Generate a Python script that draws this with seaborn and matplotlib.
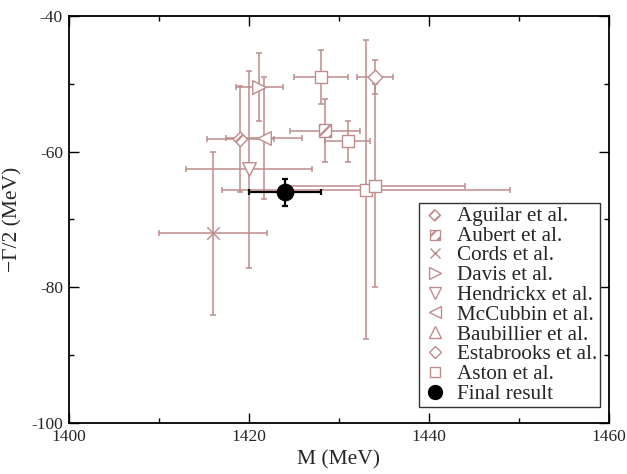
import matplotlib
matplotlib.use("Agg")
import matplotlib.pyplot as plt
from matplotlib.lines import Line2D
import seaborn as sns
import numpy as np
import pandas as pd

# ---- data ----
labels = ["Aguilar et al.", "Aubert et al.", "Cords et al.", "Davis et al.",
          "Hendrickx et al.", "McCubbin et al.", "Baubillier et al.",
          "Estabrooks et al.", "Aston et al.", "Final result"]

aguilar_m, aguilar_dm, aguilar_g, aguilar_dg = [1419.1], [3.7], [-58.2], [7.8]
aubert_m, aubert_dm, aubert_g, aubert_dg = [1428.5], [3.9], [-56.9], [4.6]
cords_m, cords_dm, cords_g, cords_dg = [1416.0], [6.0], [-72.0], [12.0]
davis_m, davis_dm, davis_g, davis_dg = [1421.2], [2.6], [-50.5], [5.0]
hendrickx_m, hendrickx_dm, hendrickx_g, hendrickx_dg = [1420.0], [7.0], [-62.6], [14.5]
mccubbin_m, mccubbin_dm, mccubbin_g, mccubbin_dg = [1421.7], [4.2], [-58.0], [9.0]
baubillier_m, baubillier_dm, baubillier_g, baubillier_dg = [], [], [], []
estabrooks_m, estabrooks_dm, estabrooks_g, estabrooks_dg = [1434.0], [2.0], [-49.0], [2.5]
aston_m = [1428.0, 1431.0, 1433.0, 1434.0]
aston_dm = [3.0, 2.5, 16.0, 10.0]
aston_g = [-49.0, -58.5, -65.6, -65.0]
aston_dg = [4.0, 3.0, 22.0, 15.0]
final_m, final_dm, final_g, final_dg = [1424.0], [4.0], [-66.0], [2.0]

x_ticks = [1400, 1420, 1440, 1460]
y_ticks = [-100, -80, -60, -40]

# ---- style ----
sns.set_theme(style="ticks")
plt.rcParams["font.family"] = ["Liberation Serif", "DejaVu Serif"]
plt.rcParams["axes.unicode_minus"] = False
plt.rcParams["hatch.linewidth"] = 1.6

col = "#bf8c8c"

fig = plt.figure(figsize=(6.27, 4.74), dpi=100)
ax = fig.add_axes([68.5 / 627, 1 - 423.3 / 474, 540 / 627, 407.6 / 474])

series = [
    (labels[0], aguilar_m, aguilar_dm, aguilar_g, aguilar_dg, "D", "///"),
    (labels[1], aubert_m, aubert_dm, aubert_g, aubert_dg, "s", "///"),
    (labels[2], cords_m, cords_dm, cords_g, cords_dg, "x", None),
    (labels[3], davis_m, davis_dm, davis_g, davis_dg, ">", None),
    (labels[4], hendrickx_m, hendrickx_dm, hendrickx_g, hendrickx_dg, "v", None),
    (labels[5], mccubbin_m, mccubbin_dm, mccubbin_g, mccubbin_dg, "<", None),
    (labels[6], baubillier_m, baubillier_dm, baubillier_g, baubillier_dg, "^", None),
    (labels[7], estabrooks_m, estabrooks_dm, estabrooks_g, estabrooks_dg, "D", None),
    (labels[8], aston_m, aston_dm, aston_g, aston_dg, "s", None),
]

sizes = {"D": 55, "s": 80, "x": 80, ">": 95, "v": 95, "<": 95, "^": 95}
leg_ms = {"D": 6.0, "s": 7.0, "x": 7.0, ">": 8.0, "v": 8.0, "<": 8.0, "^": 8.0}

handles = []
for lab, m, dm, g, dg, mk, hatch in series:
    if len(m):
        ax.errorbar(m, g, xerr=dm, yerr=dg, fmt="none", ecolor=col,
                    elinewidth=1.1, capsize=2.2, capthick=1.1, zorder=2)
        df = pd.DataFrame({"M": np.asarray(m, dtype=float), "G": np.asarray(g, dtype=float)})
        kw = dict(marker=mk, s=sizes[mk], linewidth=1.0, zorder=3, legend=False)
        if mk == "x":
            kw.update(color=col)
        else:
            kw.update(facecolor="white", edgecolor=col)
        if hatch:
            kw.update(hatch=hatch)
        sns.scatterplot(data=df, x="M", y="G", ax=ax, **kw)
    if hatch:
        h = ax.scatter([], [], marker=mk, s=sizes[mk] * 0.6, facecolor="white",
                       edgecolor=col, linewidth=1.0, hatch=hatch)
    elif mk == "x":
        h = Line2D([], [], ls="none", marker=mk, ms=leg_ms[mk], color=col, mew=1.0)
    else:
        h = Line2D([], [], ls="none", marker=mk, ms=leg_ms[mk], mfc="white",
                   mec=col, mew=1.0)
    handles.append(h)

ax.errorbar(final_m, final_g, xerr=final_dm, yerr=final_dg, fmt="none",
            ecolor="black", elinewidth=1.6, capsize=2.5, capthick=1.6, zorder=4)
df_final = pd.DataFrame({"M": final_m, "G": final_g})
sns.scatterplot(data=df_final, x="M", y="G", ax=ax, marker="o", s=150,
                color="black", edgecolor="black", linewidth=0.5, zorder=5,
                legend=False)
handles.append(Line2D([], [], ls="none", marker="o", ms=10, color="black"))

ax.set_xlim(1400, 1460)
ax.set_ylim(-100, -40)
ax.set_xticks(x_ticks)
ax.set_yticks(y_ticks)
ax.set_xticks(np.arange(1400, 1461, 10), minor=True)
ax.set_yticks(np.arange(-100, -39, 10), minor=True)
ax.tick_params(which="both", direction="in", top=True, right=True,
               width=1.0, labelsize=12.5, pad=4, color="black")
ax.tick_params(which="major", length=7.2)
ax.tick_params(which="minor", length=3.8)
for sp in ax.spines.values():
    sp.set_linewidth(1.3)
    sp.set_color("black")

ax.set_xlabel("M (MeV)", fontsize=15.5, labelpad=4)
ax.set_ylabel("\u2212\u0393/2 (MeV)", fontsize=15.5, labelpad=6)

leg = ax.legend(handles, labels,
                loc="upper left", bbox_to_anchor=(0.649, 0.5405),
                fontsize=15.2, frameon=True, fancybox=False, framealpha=1,
                edgecolor="#333333", borderpad=0.15, labelspacing=0.0,
                handlelength=1.2, handletextpad=0.45, borderaxespad=0)
leg.get_frame().set_linewidth(1.0)

fig.savefig("out.png", dpi=100)
